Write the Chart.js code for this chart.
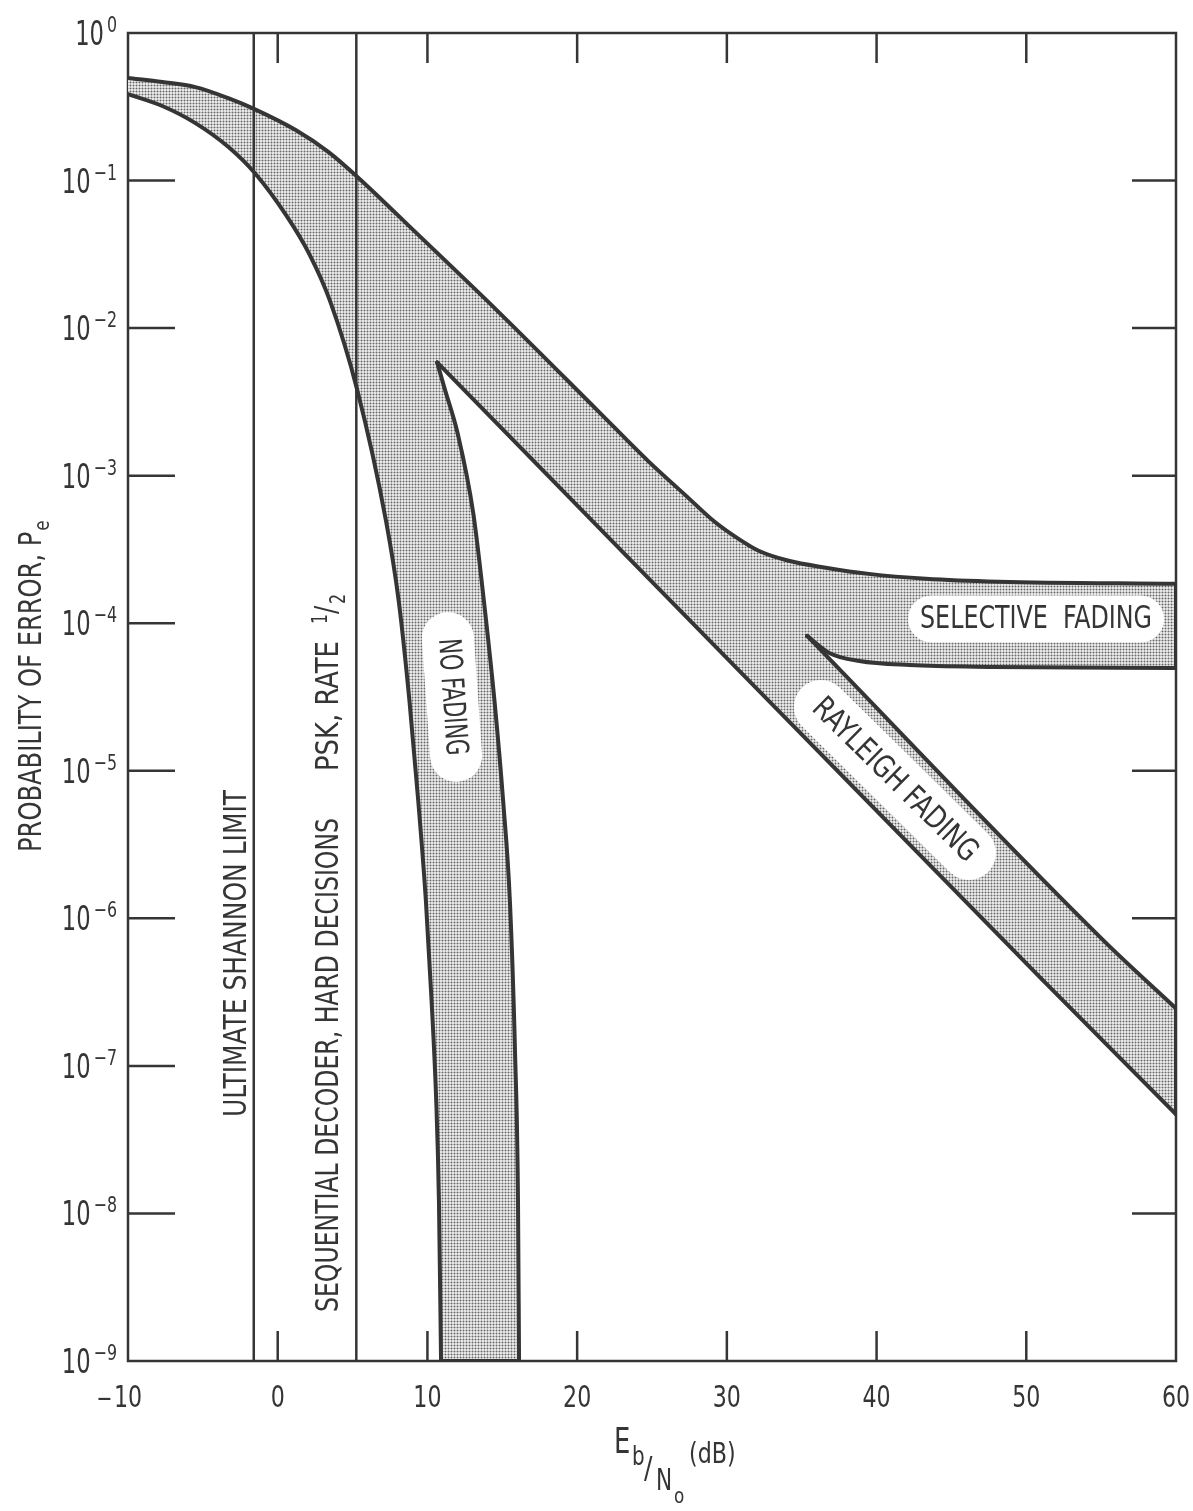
<!DOCTYPE html>
<html>
<head>
<meta charset="utf-8">
<script src="https://cdn.jsdelivr.net/npm/chart.js@4.4.1/dist/chart.umd.min.js"></script>
<style>
  html, body { margin: 0; padding: 0; background: #fff; }
  #wrap { width: 1193px; height: 1511px; }
</style>
</head>
<body>
<div id="wrap"><canvas id="chartPe" width="1193" height="1511"></canvas></div>
<script>
// Probabilidad de error vs Eb/N0 — bandas sin desvanecimiento / Rayleigh / selectivo
const xTicks = [-10, 0, 10, 20, 30, 40, 50, 60];
const yExponents = [0, -1, -2, -3, -4, -5, -6, -7, -8, -9];

const shannonLimit = -1.6;   // dB
const seqDecoder = 5.25;     // dB

// borde superior de la banda (dB, Pe)
const upperX = [-10, -7.7, -5.5, -3.3, -1.55, 1.2, 3.4, 5.36, 9.27, 14.64, 21.37, 24.73, 27.41, 29.1, 30.78, 32.12, 34.13, 36.61, 39.48, 43.29, 48.17, 60];
const upperP = [0.495, 0.465, 0.43, 0.362, 0.305, 0.22, 0.156, 0.105, 0.044, 0.0132, 2.76e-3, 1.26e-3, 7.1e-4, 4.95e-4, 3.73e-4, 3.1e-4, 2.65e-4, 2.38e-4, 2.16e-4, 2.0e-4, 1.91e-4, 1.85e-4];

// borde inferior izquierdo (sin desvanecimiento)
const lowerX = [-10, -7.71, -5.5, -3.27, -1.52, 0.57, 2.12, 3.48, 5.32, 7.23, 8.08, 8.8, 9.39, 9.9, 10.28, 10.59, 10.77, 10.91];
const lowerP = [0.385, 0.32, 0.245, 0.168, 0.112, 0.058, 0.0316, 0.0154, 3.78e-3, 4.95e-4, 1.42e-4, 2.97e-5, 6.2e-6, 1.3e-6, 2.73e-7, 5.7e-8, 1.2e-8, 1e-9];

// borde derecho sin desvanecimiento (desde la punta)
const noFadeX = [10.65, 11.13, 12.02, 13.07, 13.77, 14.48, 15.06, 15.51, 15.85, 16.05, 16.12];
const noFadeP = [5.85e-3, 3.95e-3, 1.93e-3, 5.5e-4, 1.42e-4, 2.97e-5, 6.2e-6, 1.3e-6, 1.25e-7, 1.2e-8, 1e-9];

// Rayleigh
const rayLowX = [10.65, 51.0, 60];
const rayLowP = [5.85e-3, 3.9e-7, 4.7e-8];
const rayUpX = [35.36, 55.2, 60];
const rayUpP = [8.2e-5, 7.0e-7, 2.45e-7];

// selectivo, borde inferior
const selLowX = [35.36, 36.84, 38.85, 42.2, 47.74, 60];
const selLowP = [8.2e-5, 6.29e-5, 5.55e-5, 5.21e-5, 5.06e-5, 4.97e-5];

const INK = '#353535';
const FONT = '"DejaVu Sans Condensed", "DejaVu Sans", sans-serif';

function pts(xs, ps) { return xs.map((x, i) => ({ x: x, y: ps[i] })); }
function last(xs, ps) { return { x: xs[xs.length - 1], y: ps[ps.length - 1] }; }

// contorno completo de la zona sombreada
const bandShape = [].concat(
  pts(upperX, upperP),
  pts(selLowX, selLowP).reverse(),
  pts(rayUpX, rayUpP).slice(1),
  pts(rayLowX, rayLowP).reverse(),
  pts(noFadeX, noFadeP).slice(1),
  pts(lowerX, lowerP).reverse(),
  [{ x: upperX[0], y: upperP[0] }]
);

function halftone() {
  const c = document.createElement('canvas');
  c.width = 3; c.height = 3;
  const g = c.getContext('2d');
  g.fillStyle = '#e6e6e6'; g.fillRect(0, 0, 3, 3);
  g.fillStyle = '#b6b6b6';
  g.fillRect(0, 1, 3, 1); g.fillRect(1, 0, 1, 3);
  g.fillStyle = '#666'; g.fillRect(1, 1, 1, 1);
  return g.createPattern(c, 'repeat');
}

function stadium(ctx, w, h) {
  const r = h / 2;
  ctx.beginPath();
  ctx.moveTo(-w / 2 + r, -r);
  ctx.lineTo(w / 2 - r, -r);
  ctx.arc(w / 2 - r, 0, r, -Math.PI / 2, Math.PI / 2);
  ctx.lineTo(-w / 2 + r, r);
  ctx.arc(-w / 2 + r, 0, r, Math.PI / 2, Math.PI * 1.5);
  ctx.closePath();
  ctx.fill();
}

// texto estrecho (rotulado técnico): se comprime en horizontal
function put(ctx, str, x, y, size, o) {
  o = o || {};
  ctx.font = size + 'px ' + FONT;
  const w = ctx.measureText(str).width;
  const sx = o.width ? o.width / w : (o.sx || 1);
  ctx.save();
  ctx.translate(x, y);
  ctx.scale(sx, 1);
  ctx.textAlign = o.align || 'left';
  ctx.textBaseline = o.baseline || 'alphabetic';
  ctx.fillText(str, 0, 0);
  ctx.restore();
  return w * sx;
}

const bandLabels = [
  { text: 'NO FADING', x: 11.64, p: Math.pow(10, -4.50), angle: 86, w: 170, h: 52, size: 31, tw: 117 },
  { text: 'SELECTIVE  FADING', x: 50.65, p: Math.pow(10, -3.971), angle: 0, w: 256, h: 47, size: 32, tw: 232 },
  { text: 'RAYLEIGH FADING', x: 41.23, p: Math.pow(10, -5.062), angle: 44.6, w: 262, h: 54, size: 31, tw: 219 },
];

const paperPlugin = {
  id: 'paper',
  beforeDatasetsDraw(chart) {
    const { ctx, chartArea: a, scales: { x, y } } = chart;
    ctx.save();
    ctx.strokeStyle = INK;
    ctx.lineWidth = 2.5;
    ctx.strokeRect(a.left, a.top, a.right - a.left, a.bottom - a.top);
    const seg = (x1, y1, x2, y2) => { ctx.beginPath(); ctx.moveTo(x1, y1); ctx.lineTo(x2, y2); ctx.stroke(); };
    xTicks.slice(1, -1).forEach(v => {
      const px = x.getPixelForValue(v);
      seg(px, a.top, px, a.top + 30);
      seg(px, a.bottom - 30, px, a.bottom);
    });
    yExponents.slice(1, -1).forEach(e => {
      const py = y.getPixelForValue(Math.pow(10, e));
      seg(a.left, py, a.left + 47, py);
      seg(a.right - 44, py, a.right, py);
    });
    ctx.restore();
  },
  afterDatasetsDraw(chart) {
    const { ctx, chartArea: a, scales: { x, y } } = chart;
    ctx.save();
    ctx.fillStyle = INK;

    // etiquetas del eje y: 10 con exponente
    yExponents.forEach(e => {
      const py = y.getPixelForValue(Math.pow(10, e));
      const sup = e === 0 ? '0' : '\u2212' + Math.abs(e);
      const sw = put(ctx, sup, a.left - 11, py - 1, 22, { align: 'right', sx: 0.8 });
      put(ctx, '10', a.left - 14 - sw, py + 12, 34, { align: 'right', sx: 0.74 });
    });

    // etiquetas del eje x
    xTicks.forEach(v => {
      const px = x.getPixelForValue(v);
      const digits = String(Math.abs(v));
      const w = put(ctx, digits, px, 1407, 30, { align: 'center', sx: 0.82 });
      if (v < 0) put(ctx, '\u2013', px - w / 2 - 2, 1407, 30, { align: 'right', sx: 1.1 });
    });

    // pastillas blancas con texto
    bandLabels.forEach(l => {
      ctx.save();
      ctx.translate(x.getPixelForValue(l.x), y.getPixelForValue(l.p));
      ctx.rotate(l.angle * Math.PI / 180);
      ctx.fillStyle = '#fff';
      stadium(ctx, l.w, l.h);
      ctx.fillStyle = INK;
      put(ctx, l.text, 0, 1, l.size, { align: 'center', baseline: 'middle', width: l.tw });
      ctx.restore();
    });

    // textos verticales junto a las rectas
    const vtext = (xv, pv, parts) => {
      ctx.save();
      ctx.translate(x.getPixelForValue(xv), y.getPixelForValue(pv));
      ctx.rotate(-Math.PI / 2);
      parts.forEach(([t, at, dy, size, o]) => put(ctx, t, at, dy, size, o));
      ctx.restore();
    };
    vtext(-2.12, Math.pow(10, -7.346), [['ULTIMATE SHANNON LIMIT', 0, 0, 32, { width: 327 }]]);
    vtext(4.03, Math.pow(10, -8.668), [
      ['SEQUENTIAL DECODER, HARD DECISIONS', 0, 0, 32, { width: 494 }],
      ['PSK, RATE', 541, 0, 32, { width: 130 }],
      ['1', 688, -11, 22, { sx: 0.8 }],
      ['/', 698, -2, 30, { sx: 0.9 }],
      ['2', 708, 7, 22, { sx: 0.8 }]
    ]);

    // título eje y
    ctx.save();
    ctx.translate(41, 852);
    ctx.rotate(-Math.PI / 2);
    const tw = put(ctx, 'PROBABILITY OF ERROR, P', 0, 0, 32, { sx: 0.84 });
    put(ctx, 'e', tw + 1, 8, 22, { sx: 0.85 });
    ctx.restore();

    // título eje x: Eb/No (dB)
    put(ctx, 'E', 614, 1453, 35, { sx: 0.82 });
    put(ctx, 'b', 632, 1465, 27, { sx: 0.82 });
    put(ctx, '/', 644, 1478, 31, { sx: 0.9 });
    put(ctx, 'N', 656, 1490, 30, { sx: 0.8 });
    put(ctx, 'o', 674, 1503, 22, { sx: 0.85 });
    put(ctx, '(dB)', 689, 1463, 29, { sx: 0.85 });
    ctx.restore();
  }
};

const curve = { pointRadius: 0, borderColor: INK, borderWidth: 4, fill: false,
  cubicInterpolationMode: 'monotone', borderCapStyle: 'round', borderJoinStyle: 'round', order: 1 };
const rule = { pointRadius: 0, borderColor: INK, borderWidth: 2.5, fill: false, tension: 0, order: 0 };

new Chart(document.getElementById('chartPe'), {
  type: 'line',
  data: {
    datasets: [
      Object.assign({}, rule, { label: 'Shannon', data: [{ x: shannonLimit, y: 1e-9 }, { x: shannonLimit, y: 1 }] }),
      Object.assign({}, rule, { label: 'Secuencial', data: [{ x: seqDecoder, y: 1e-9 }, { x: seqDecoder, y: 1 }] }),
      Object.assign({}, curve, { label: 'Superior', data: pts(upperX, upperP) }),
      Object.assign({}, curve, { label: 'Inferior', data: pts(lowerX, lowerP) }),
      Object.assign({}, curve, { label: 'Sin desvanecimiento', data: pts(noFadeX, noFadeP) }),
      Object.assign({}, curve, { label: 'Rayleigh inf', data: pts(rayLowX, rayLowP) }),
      Object.assign({}, curve, { label: 'Rayleigh sup', data: pts(rayUpX, rayUpP) }),
      Object.assign({}, curve, { label: 'Selectivo inf', data: pts(selLowX, selLowP) }),
      Object.assign({}, curve, { label: 'Cierre selectivo', cubicInterpolationMode: 'default', tension: 0,
        data: [last(upperX, upperP), last(selLowX, selLowP)] }),
      Object.assign({}, curve, { label: 'Cierre Rayleigh', cubicInterpolationMode: 'default', tension: 0,
        data: [last(rayUpX, rayUpP), last(rayLowX, rayLowP)] }),
      Object.assign({}, curve, { label: 'Cierre base', cubicInterpolationMode: 'default', tension: 0,
        data: [last(lowerX, lowerP), last(noFadeX, noFadeP)] }),
      {
        label: 'Banda', data: bandShape, pointRadius: 0, borderWidth: 0, tension: 0,
        backgroundColor: halftone(), fill: 'shape', order: 2
      }
    ]
  },
  options: {
    responsive: false,
    animation: false,
    layout: { padding: { top: 33, right: 17, left: 0, bottom: 0 } },
    plugins: { legend: { display: false }, tooltip: { enabled: false } },
    scales: {
      x: {
        type: 'linear', min: -10, max: 60,
        grid: { display: false, drawTicks: false },
        border: { display: false },
        afterBuildTicks: s => { s.ticks = xTicks.map(v => ({ value: v })); },
        afterFit: s => { s.height = 150; s.paddingLeft = 0; s.paddingRight = 0; },
        ticks: { display: false }
      },
      y: {
        type: 'logarithmic', min: 1e-9, max: 1,
        grid: { display: false, drawTicks: false },
        border: { display: false },
        afterBuildTicks: s => { s.ticks = yExponents.map(e => ({ value: Math.pow(10, e) })); },
        afterFit: s => { s.width = 128; s.paddingTop = 0; s.paddingBottom = 0; },
        ticks: { display: false }
      }
    }
  },
  plugins: [paperPlugin]
});
</script>
</body>
</html>
